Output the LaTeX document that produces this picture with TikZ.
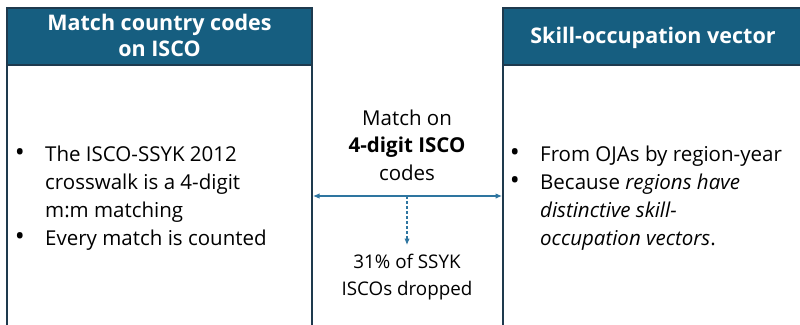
\documentclass[tikz,border=0pt]{standalone}
\usepackage{fontspec}
\usepackage{graphicx}
\setmainfont{Open Sans}
\usetikzlibrary{arrows.meta}
\definecolor{headblue}{RGB}{22,94,128}
\definecolor{edgeblue}{RGB}{30,58,78}
\definecolor{arrowblue}{RGB}{46,117,160}
\tikzset{
  boxframe/.style={draw=edgeblue, line width=1.3pt, fill=white},
  headbox/.style={draw=edgeblue, line width=1.3pt, fill=headblue},
  headtext/.style={text=white, font=\fontsize{21.5}{26}\selectfont\bfseries, anchor=base, inner sep=0pt},
  bodytext/.style={font=\fontsize{20.5}{28}\selectfont, anchor=base west, inner sep=0pt},
  midtext/.style={font=\fontsize{20.5}{27.5}\selectfont, anchor=base, inner sep=0pt},
  droptext/.style={font=\fontsize{18.8}{27}\selectfont, anchor=base, inner sep=0pt},
  conn/.style={draw=arrowblue, line width=1.1pt},
}
\newcommand{\ctab}[1]{\begin{tabular}[t]{@{}c@{}}#1\end{tabular}}
\newcommand{\btab}[1]{\begin{tabular}[t]{@{}l@{\hspace{21.4pt}}l@{}}#1\end{tabular}}
\newcommand{\bul}{\makebox[7.6pt][c]{\scalebox{1.3}{•}}}
\begin{document}
\begin{tikzpicture}[x=1pt,y=-1pt]
\useasboundingbox (0,0) rectangle (800,324);
\begin{scope}
\clip (0,0) rectangle (800,324);
% left panel
\path[boxframe] (7,8) rectangle (312,345);
\path[headbox] (7,8) rectangle (312,65);
\node[headtext] (lhead) at (159.5,30) {\ctab{Match country codes\\on ISCO}};
% right panel
\path[boxframe] (503,8) rectangle (830,345);
\path[headbox] (503,8) rectangle (830,65);
\node[headtext] (rhead) at (653,43) {Skill-occupation vector};
\end{scope}
% left bullets
\node[bodytext] (ltext) at (16,161) {\btab{
\bul& The ISCO-SSYK 2012\\
 & crosswalk is a 4-digit\\
 & m:m matching\\
\bul& Every match is counted}};
% right bullets
\node[bodytext] (rtext) at (511,161) {\btab{
\bul& From OJAs by region-year\\
\bul& Because \textit{regions have}\\
 & \textit{distinctive skill-}\\
 & \textit{occupation vectors}.}};
% middle
\node[midtext] (mlabel) at (407,125) {\ctab{Match on\\\textbf{4-digit ISCO}\\codes}};
\coordinate (aL) at (313,196);
\coordinate (aR) at (502,196);
\coordinate (aM) at (407,196);
\coordinate (aD) at (407,245);
\draw[conn, {Latex[length=6.5pt,width=5.5pt]}-{Latex[length=6.5pt,width=5.5pt]}] (aL) -- (aR);
\draw[conn, dashed, dash pattern=on 3pt off 2pt, -{Latex[length=6.5pt,width=5.5pt]}] (aM) -- (aD);
\node[droptext] (drop) at (407,268) {\ctab{31\% of SSYK\\ISCOs dropped}};
\end{tikzpicture}
\end{document}
